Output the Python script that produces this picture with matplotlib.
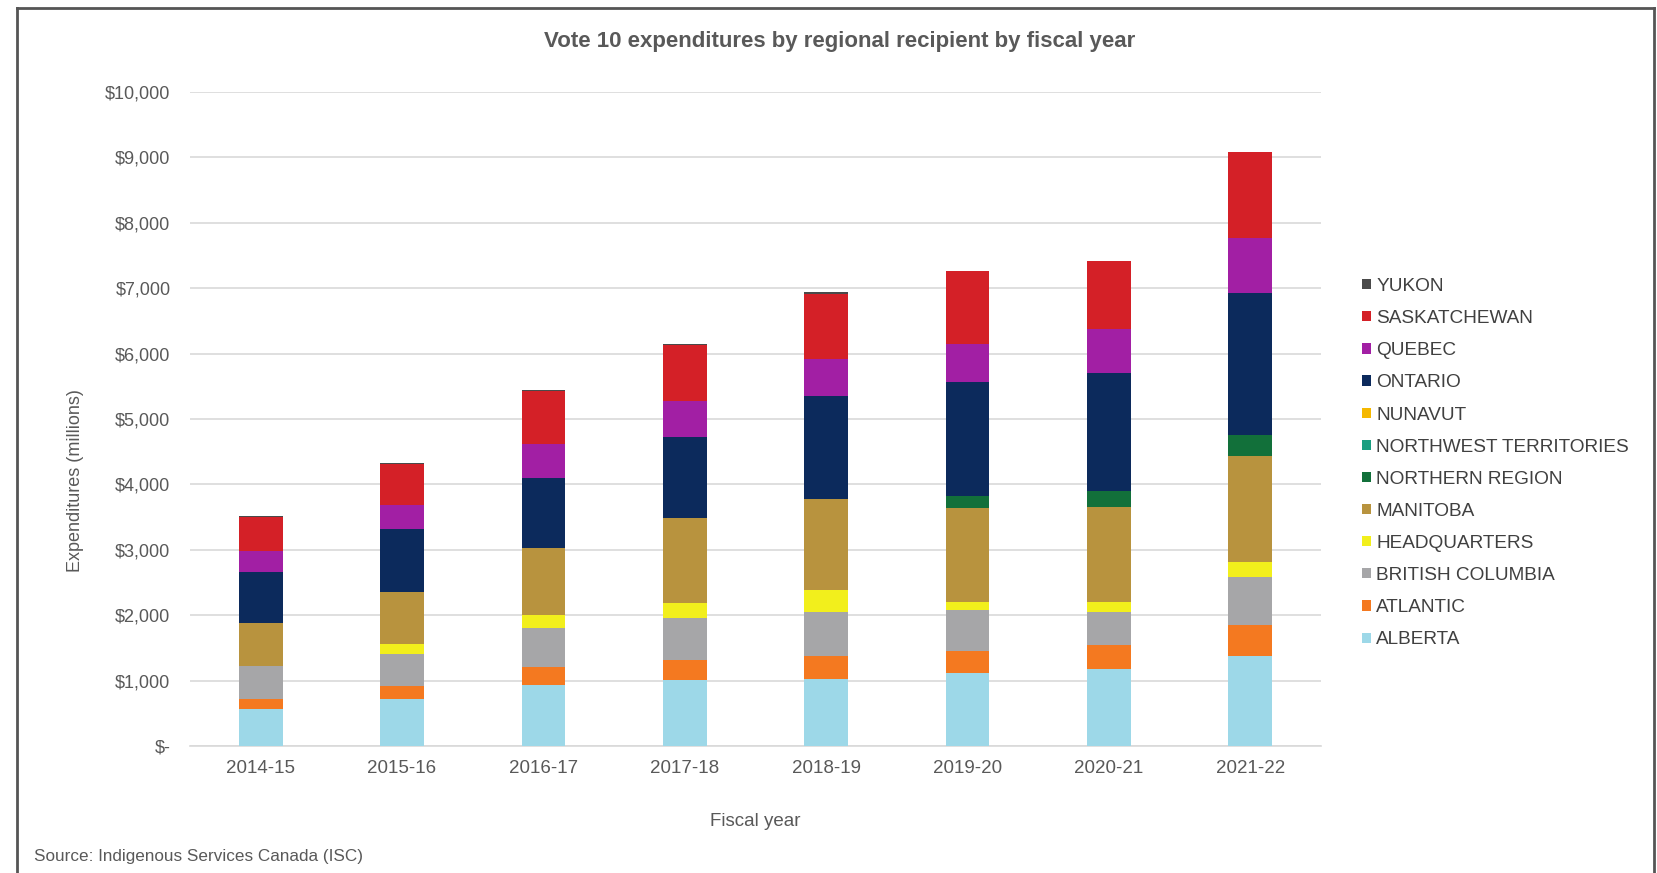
import matplotlib.pyplot as plt
import numpy as np
from matplotlib.ticker import FuncFormatter
from matplotlib.lines import Line2D

plt.rcParams['font.family'] = ['Liberation Sans', 'DejaVu Sans']

years = ['2014-15', '2015-16', '2016-17', '2017-18', '2018-19', '2019-20', '2020-21', '2021-22']

# expenditures in $ millions, stacked bottom to top
alberta = [559, 712, 930, 1016, 1032, 1117, 1184, 1377]
atlantic = [153, 203, 279, 295, 345, 331, 356, 468]
british_columbia = [508, 498, 594, 651, 670, 625, 507, 746]
headquarters = [0, 153, 194, 228, 342, 127, 153, 218]
manitoba = [666, 786, 1026, 1290, 1387, 1439, 1448, 1627]
northern_region = [0, 0, 0, 0, 0, 187, 254, 320]
northwest_territories = [0, 0, 0, 0, 0, 0, 0, 0]
nunavut = [0, 0, 0, 0, 0, 0, 0, 0]
ontario = [771, 967, 1082, 1250, 1575, 1738, 1804, 2169]
quebec = [320, 365, 509, 544, 559, 584, 676, 849]
saskatchewan = [530, 625, 813, 855, 1008, 1118, 1030, 1305]
yukon = [10, 15, 20, 20, 25, 0, 0, 0]

series = [
    ('ALBERTA', alberta, '#9dd8e8'),
    ('ATLANTIC', atlantic, '#f47920'),
    ('BRITISH COLUMBIA', british_columbia, '#a6a6a8'),
    ('HEADQUARTERS', headquarters, '#f2ef1c'),
    ('MANITOBA', manitoba, '#b8933e'),
    ('NORTHERN REGION', northern_region, '#12703a'),
    ('NORTHWEST TERRITORIES', northwest_territories, '#1a9e80'),
    ('NUNAVUT', nunavut, '#f5b800'),
    ('ONTARIO', ontario, '#0c2a5c'),
    ('QUEBEC', quebec, '#a21fa4'),
    ('SASKATCHEWAN', saskatchewan, '#d42027'),
    ('YUKON', yukon, '#4a4a4a'),
]

text_col = '#595959'

fig = plt.figure(figsize=(16.57, 8.73), dpi=100)
ax = fig.add_axes([190 / 1657, 127 / 873, 1131 / 1657, 654 / 873])

x = np.arange(len(years))
bottom = np.zeros(len(years))
handles = []
for name, vals, col in series:
    b = ax.bar(x, vals, 0.31, bottom=bottom, color=col, label=name, zorder=3)
    bottom += np.array(vals)
    handles.append(b)

ax.set_xlim(-0.5, len(years) - 0.5)
ax.set_ylim(0, 10000)
ax.set_yticks(range(0, 10001, 1000))
ax.yaxis.set_major_formatter(FuncFormatter(lambda v, p: '$-' if v == 0 else '${:,.0f}'.format(v)))
ax.set_xticks(x)
ax.set_xticklabels(years)
ax.grid(axis='y', color='#d9d9d9', linewidth=1.2, zorder=0)
for s in ['top', 'right', 'left']:
    ax.spines[s].set_visible(False)
ax.spines['bottom'].set_color('#d9d9d9')
ax.spines['bottom'].set_linewidth(1.2)
ax.tick_params(axis='y', length=0, labelsize=13, colors=text_col, pad=14)
ax.tick_params(axis='x', length=0, labelsize=13.5, colors=text_col, pad=10)

fig.text(840 / 1657, 1 - 41 / 873, 'Vote 10 expenditures by regional recipient by fiscal year',
         ha='center', va='center', fontsize=16, fontweight='bold', color=text_col)
fig.text(755 / 1657, 1 - 821 / 873, 'Fiscal year', ha='center', va='center', fontsize=13.5, color=text_col)
fig.text(75 / 1657, 1 - 481 / 873, 'Expenditures (millions)', ha='center', va='center',
         rotation=90, fontsize=13, color=text_col)
fig.text(34 / 1657, 1 - 856 / 873, 'Source: Indigenous Services Canada (ISC)', ha='left', va='center',
         fontsize=12.3, color=text_col)

leg = fig.legend(handles[::-1], [s[0] for s in series][::-1], loc='upper left',
                 bbox_to_anchor=(1362 / 1657, 1 - 278 / 873), frameon=False,
                 fontsize=13.7, handlelength=0.45, handleheight=0.45, handletextpad=0.3,
                 labelspacing=0.795, borderaxespad=0, borderpad=0)
for t in leg.get_texts():
    t.set_color('#404040')

# outer frame
fc = '#555555'
fig.add_artist(Line2D([17 / 1657, 17 / 1657], [0, 1 - 8 / 873], color=fc, lw=2, transform=fig.transFigure))
fig.add_artist(Line2D([17 / 1657, 1654 / 1657], [1 - 8 / 873, 1 - 8 / 873], color=fc, lw=2, transform=fig.transFigure))
fig.add_artist(Line2D([1654 / 1657, 1654 / 1657], [0, 1 - 8 / 873], color=fc, lw=2, transform=fig.transFigure))

fig.savefig('out.png', dpi=100, facecolor='white')
